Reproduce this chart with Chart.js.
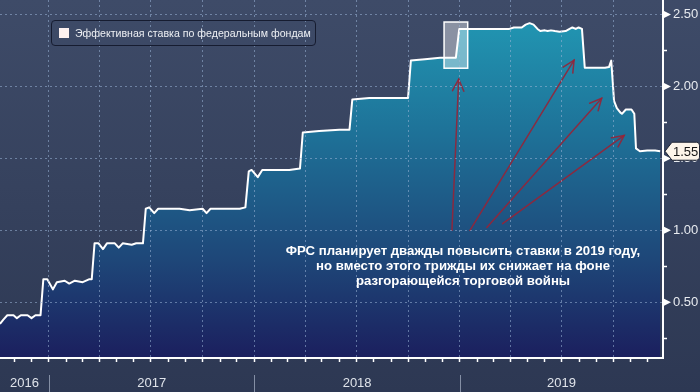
<!DOCTYPE html>
<html>
<head>
<meta charset="utf-8">
<script src="https://cdn.jsdelivr.net/npm/chart.js@4/dist/chart.umd.min.js"></script>
<style>
html,body{margin:0;padding:0;background:#36425e;}
#wrap{position:relative;width:700px;height:392px;overflow:hidden;}
canvas{display:block;}
#legend{position:absolute;left:51px;top:20px;width:265px;height:26px;box-sizing:border-box;border:1px solid #161c30;border-radius:4px;display:flex;align-items:center;padding-left:7px;font:10.6px "Liberation Sans",Arial,sans-serif;color:#eef0f4;white-space:nowrap;}
#legend .sw{width:10px;height:10px;background:#fdf1ef;margin-right:6px;flex:none;}
#note{position:absolute;left:263px;top:243px;width:400px;text-align:center;font:bold 13.2px/15px "Liberation Sans",Arial,sans-serif;color:#ffffff;}
</style>
</head>
<body>
<div id="wrap">
<canvas id="c" width="700" height="392"></canvas>
<div id="legend"><span class="sw"></span><span id="legendText"></span></div>
<div id="note"></div>
</div>
<script>
// ---------- data ----------
const seriesName = 'Эффективная ставка по федеральным фондам';
const noteLines = [
  'ФРС планирует дважды повысить ставки в 2019 году,',
  'но вместо этого трижды их снижает на фоне',
  'разгорающейся торговой войны'
];
const dates = [
  '2016-10-06','2016-10-12','2016-10-19','2016-10-30','2016-11-05','2016-11-12','2016-11-24','2016-12-01','2016-12-08','2016-12-17',
  '2016-12-22','2016-12-29','2017-01-08','2017-01-15','2017-01-29','2017-02-06','2017-02-16','2017-03-02','2017-03-13','2017-03-18',
  '2017-03-23','2017-03-30','2017-04-07','2017-04-14','2017-04-28','2017-05-05','2017-05-12','2017-05-28','2017-06-05','2017-06-17',
  '2017-06-22','2017-06-28','2017-07-07','2017-07-14','2017-08-03','2017-08-21','2017-09-08','2017-10-01','2017-10-08','2017-10-15',
  '2017-11-10','2017-12-06','2017-12-16','2017-12-22','2017-12-27','2018-01-07','2018-01-15','2018-02-07','2018-03-04','2018-03-23',
  '2018-03-28','2018-04-26','2018-06-01','2018-06-19','2018-06-24','2018-07-24','2018-08-29','2018-10-01','2018-10-06','2018-10-31',
  '2018-11-27','2018-12-25','2018-12-31','2019-02-07','2019-03-30','2019-04-07','2019-04-21','2019-04-28','2019-05-05','2019-05-12',
  '2019-05-19','2019-05-24','2019-06-01','2019-06-06','2019-06-12','2019-06-19','2019-06-27','2019-07-08','2019-07-15','2019-07-20',
  '2019-07-26','2019-07-31','2019-08-06','2019-08-11','2019-08-29','2019-09-16','2019-09-23','2019-09-27','2019-10-02','2019-10-07',
  '2019-10-13','2019-10-16','2019-10-23','2019-11-02','2019-11-07','2019-11-10','2019-11-17','2019-11-30','2019-12-14','2019-12-23'
];
const rates = [
  0.35,0.38,0.41,0.41,0.39,0.41,0.41,0.39,0.41,0.41,
  0.66,0.66,0.59,0.64,0.65,0.63,0.65,0.64,0.66,0.66,
  0.91,0.91,0.87,0.91,0.91,0.88,0.91,0.90,0.91,0.91,
  1.15,1.16,1.12,1.15,1.15,1.15,1.14,1.15,1.12,1.15,
  1.15,1.15,1.16,1.41,1.42,1.37,1.42,1.42,1.42,1.43,
  1.68,1.69,1.70,1.70,1.91,1.92,1.92,1.92,2.18,2.19,
  2.20,2.20,2.40,2.40,2.40,2.41,2.41,2.43,2.44,2.43,
  2.40,2.385,2.39,2.385,2.39,2.385,2.38,2.385,2.40,2.41,
  2.40,2.41,2.40,2.13,2.13,2.13,2.135,2.18,1.90,1.85,
  1.82,1.81,1.84,1.84,1.81,1.57,1.55,1.555,1.555,1.55
];
const yTicks = [0.25,0.5,0.75,1.0,1.25,1.5,1.75,2.0,2.25,2.5];
const years = [2016,2017,2018,2019];
const xStart = '2016-10-06', xEnd = '2019-12-28';
const yMin = 0.113, yMax = 2.601;
// highlighted window (Dec 2018 hike) and arrows, in data space
const highlight = {from:'2018-12-04', to:'2019-01-15', low:2.127, high:2.448};
const arrows = [
  [['2018-12-18',1.00],['2018-12-30',2.05]],
  [['2019-01-19',1.00],['2019-07-23',2.183]],
  [['2019-02-18',1.02],['2019-09-10',1.918]],
  [['2019-03-18',1.047],['2019-10-20',1.66]]
];

document.getElementById('legendText').textContent = seriesName;
document.getElementById('note').innerHTML = noteLines.map(s=>'<div>'+s+'</div>').join('');

const T = d => Date.parse(d + 'T00:00:00Z');
const gridCol = 'rgba(155,180,215,0.55)';
const isMajor = v => Math.abs(v*2 - Math.round(v*2)) < 1e-6;

const decor = {
  id: 'decor',
  beforeDraw(chart) {
    const ctx = chart.ctx;
    const g = ctx.createLinearGradient(0,0,0,chart.height);
    g.addColorStop(0,'#3e4b68');
    g.addColorStop(1,'#2d3853');
    ctx.save(); ctx.fillStyle = g; ctx.fillRect(0,0,chart.width,chart.height); ctx.restore();
  },
  afterDatasetsDraw(chart) {
    const ctx = chart.ctx, xs = chart.scales.x, ys = chart.scales.y;
    ctx.save();
    const x1 = xs.getPixelForValue(T(highlight.from)), x2 = xs.getPixelForValue(T(highlight.to));
    const y1 = ys.getPixelForValue(highlight.high), y2 = ys.getPixelForValue(highlight.low);
    ctx.fillStyle = 'rgba(255,255,255,0.4)';
    ctx.fillRect(x1,y1,x2-x1,y2-y1);
    ctx.strokeStyle = '#ffffff'; ctx.lineWidth = 1.5;
    ctx.strokeRect(x1,y1,x2-x1,y2-y1);
    ctx.strokeStyle = 'rgba(150,35,55,0.9)'; ctx.lineWidth = 1.5; ctx.lineCap='round';
    arrows.forEach(([a,b]) => {
      const ax = xs.getPixelForValue(T(a[0])), ay = ys.getPixelForValue(a[1]);
      const bx = xs.getPixelForValue(T(b[0])), by = ys.getPixelForValue(b[1]);
      ctx.beginPath(); ctx.moveTo(ax,ay); ctx.lineTo(bx,by); ctx.stroke();
      const ang = Math.atan2(by-ay,bx-ax), L = 13, w = 0.45;
      ctx.beginPath();
      ctx.moveTo(bx-L*Math.cos(ang-w), by-L*Math.sin(ang-w));
      ctx.lineTo(bx,by);
      ctx.lineTo(bx-L*Math.cos(ang+w), by-L*Math.sin(ang+w));
      ctx.stroke();
    });
    ctx.restore();
  },
  afterDraw(chart) {
    const ctx = chart.ctx, xs = chart.scales.x, ys = chart.scales.y, ca = chart.chartArea;
    ctx.save();
    ctx.fillStyle = '#ffffff';
    ys.ticks.forEach(t => {
      if (!isMajor(t.value)) return;
      const y = ys.getPixelForValue(t.value);
      ctx.beginPath(); ctx.moveTo(ca.right+1,y-3.5); ctx.lineTo(ca.right+8,y); ctx.lineTo(ca.right+1,y+3.5); ctx.closePath(); ctx.fill();
    });
    ctx.strokeStyle = 'rgba(170,180,200,0.7)'; ctx.lineWidth = 1;
    years.forEach(yr => {
      const v = Date.UTC(yr,0,1);
      if (v <= xs.min || v >= xs.max) return;
      const x = Math.round(xs.getPixelForValue(v)) + 0.5;
      ctx.beginPath(); ctx.moveTo(x, ca.bottom+17); ctx.lineTo(x, chart.height); ctx.stroke();
    });
    const last = rates[rates.length-1];
    const y = ys.getPixelForValue(last);
    const x0 = ca.right + 2, h = 9, r = 3, xr = chart.width - 0.5;
    ctx.beginPath();
    ctx.moveTo(x0, y);
    ctx.lineTo(x0+7, y-h);
    ctx.lineTo(xr-r, y-h); ctx.quadraticCurveTo(xr, y-h, xr, y-h+r);
    ctx.lineTo(xr, y+h-r); ctx.quadraticCurveTo(xr, y+h, xr-r, y+h);
    ctx.lineTo(x0+7, y+h);
    ctx.closePath();
    ctx.fillStyle = '#fdf5ea'; ctx.fill();
    ctx.strokeStyle = '#1f2433'; ctx.lineWidth = 1; ctx.stroke();
    ctx.fillStyle = '#151515'; ctx.font = '13px "Liberation Sans", Arial, sans-serif';
    ctx.textBaseline = 'middle'; ctx.textAlign = 'left';
    ctx.fillText(last.toFixed(2), ca.right + 10, y + 1);
    ctx.restore();
  }
};

const areaFill = (c) => {
  const a = c.chart.chartArea;
  if (!a) return '#1f5c8f';
  const g = c.chart.ctx.createLinearGradient(0, a.top, 0, a.bottom);
  g.addColorStop(0.00, '#2399b4');
  g.addColorStop(0.08, '#2193b0');
  g.addColorStop(0.36, '#1e7399');
  g.addColorStop(0.73, '#1e4678');
  g.addColorStop(1.00, '#1b1f5e');
  return g;
};

new Chart(document.getElementById('c'), {
  type: 'line',
  data: {
    datasets: [{
      label: seriesName,
      data: dates.map((d,i) => ({x: T(d), y: rates[i]})),
      borderColor: '#ffffff',
      borderWidth: 2,
      borderJoinStyle: 'round',
      pointRadius: 0,
      tension: 0,
      fill: 'start',
      backgroundColor: areaFill
    }]
  },
  options: {
    responsive: false,
    animation: false,
    layout: {padding: 0},
    plugins: {legend: {display: false}, tooltip: {enabled: false}},
    scales: {
      x: {
        type: 'linear',
        min: T(xStart), max: T(xEnd),
        afterBuildTicks: s => {
          const t = [];
          years.forEach(yr => {
            for (let m = 0; m < 12; m++) {
              const v = Date.UTC(yr, m, 1);
              if (v > s.min && v < s.max) t.push({value: v, kind: 'm', q: m % 3 === 0});
            }
            const a = Math.max(s.min, Date.UTC(yr,0,1)), b = Math.min(s.max, Date.UTC(yr+1,0,1));
            t.push({value: (a+b)/2, kind: 'y', yr: yr});
          });
          s.ticks = t.sort((p,q) => p.value - q.value);
        },
        afterFit: s => { s.height = 34; s.paddingLeft = 0; s.paddingRight = 0; },
        ticks: {
          autoSkip: false, maxRotation: 0, padding: 14,
          color: '#dfe3ea',
          font: {family: '"Liberation Sans", Arial, sans-serif', size: 13},
          callback: (v, i, ticks) => ticks[i].kind === 'y' ? String(ticks[i].yr) : ''
        },
        grid: {
          z: 1,
          lineWidth: 1,
          tickLength: 4,
          tickWidth: 1.5,
          color: c => (c.tick && c.tick.kind === 'm' && c.tick.q) ? gridCol : 'rgba(0,0,0,0)',
          tickColor: c => (c.tick && c.tick.kind === 'm') ? '#ffffff' : 'rgba(0,0,0,0)'
        },
        border: {display: true, color: '#ffffff', width: 2, dash: [2,3], z: 2}
      },
      y: {
        type: 'linear',
        position: 'right',
        min: yMin, max: yMax,
        afterBuildTicks: s => { s.ticks = yTicks.map(v => ({value: v})); },
        afterFit: s => { s.width = 37; s.paddingTop = 0; s.paddingBottom = 0; },
        ticks: {
          padding: 6,
          color: '#e8ebf0',
          font: {family: '"Liberation Sans", Arial, sans-serif', size: 13},
          callback: v => isMajor(v) ? v.toFixed(2) : ''
        },
        grid: {
          z: 1,
          lineWidth: 1,
          tickLength: 4,
          tickWidth: 1.5,
          color: c => (c.tick && isMajor(c.tick.value)) ? gridCol : 'rgba(0,0,0,0)',
          tickColor: '#ffffff'
        },
        border: {display: true, color: '#ffffff', width: 2, dash: [2,3], z: 2}
      }
    }
  },
  plugins: [decor]
});
</script>
</body>
</html>
